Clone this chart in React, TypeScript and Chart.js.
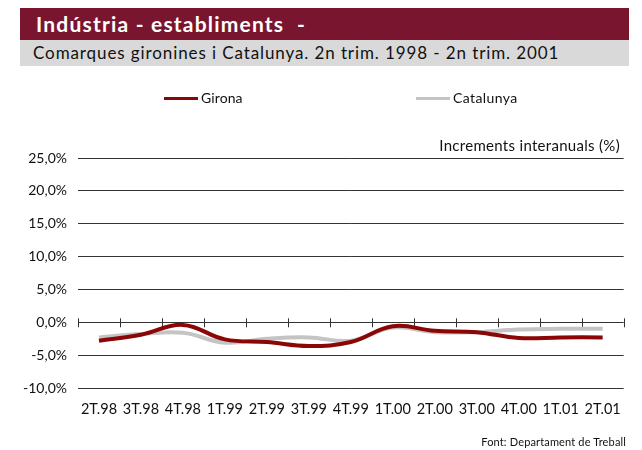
import React, { useEffect, useRef } from "react";
import { Chart, registerables } from "chart.js";

Chart.register(...registerables);

const categories = ["2T.98", "3T.98", "4T.98", "1T.99", "2T.99", "3T.99", "4T.99", "1T.00", "2T.00", "3T.00", "4T.00", "1T.01", "2T.01"];
const gironaValues = [-2.8, -1.9, -0.4, -2.6, -3.0, -3.6, -3.0, -0.6, -1.3, -1.5, -2.4, -2.3, -2.3];
const catalunyaValues = [-2.3, -1.8, -1.6, -3.1, -2.5, -2.3, -2.8, -0.8, -1.5, -1.5, -1.1, -1.0, -1.0];
const yTicks = [-10, -5, 0, 5, 10, 15, 20, 25];

const FONT = "Lato, 'DejaVu Sans', sans-serif";
const GIRONA = "#8b0606";
const CATALUNYA = "#c4c4c4";

const zeroTicks = {
  id: "zeroTicks",
  beforeDatasetsDraw(chart: any) {
    const { ctx, scales } = chart;
    const x = scales.x;
    const y = scales.y;
    const y0 = y.getPixelForValue(0);
    const n = categories.length;
    const step = (x.right - x.left) / n;
    ctx.save();
    ctx.strokeStyle = "#333";
    ctx.lineWidth = 1;
    for (let i = 0; i <= n; i++) {
      const px = Math.round(x.left + i * step) + 0.5;
      ctx.beginPath();
      ctx.moveTo(px, y0 - 4);
      ctx.lineTo(px, y0 + 5);
      ctx.stroke();
    }
    ctx.restore();
  },
};

export default function App() {
  const ref = useRef<HTMLCanvasElement>(null);
  useEffect(() => {
    if (!ref.current) return;
    const chart = new Chart(ref.current, {
      type: "line",
      data: {
        labels: categories,
        datasets: [
          {
            label: "Girona",
            data: gironaValues,
            borderColor: GIRONA,
            backgroundColor: GIRONA,
            borderWidth: 4,
            pointRadius: 0,
            tension: 0.4,
          },
          {
            label: "Catalunya",
            data: catalunyaValues,
            borderColor: CATALUNYA,
            backgroundColor: CATALUNYA,
            borderWidth: 4,
            pointRadius: 0,
            tension: 0.4,
          },
        ],
      },
      plugins: [zeroTicks],
      options: {
        animation: false,
        responsive: false,
        maintainAspectRatio: false,
        layout: { padding: { top: 150, right: 6, bottom: 0, left: 0 } },
        plugins: { legend: { display: false }, tooltip: { enabled: false } },
        scales: {
          x: {
            type: "category",
            offset: true,
            grid: { display: false, drawTicks: false },
            border: { display: false },
            ticks: { color: "#111", font: { family: FONT, size: 14.5 }, padding: 13, maxRotation: 0, autoSkip: false },
            afterFit(s: any) { s.height = 54; },
          },
          y: {
            min: -10,
            max: 25,
            afterBuildTicks(s: any) { s.ticks = yTicks.map((v) => ({ value: v })); },
            grid: { color: "#333", lineWidth: 1, drawTicks: false },
            border: { display: false },
            ticks: {
              color: "#111",
              font: { family: FONT, size: 14 },
              padding: 11,
              callback: (v: any) => Number(v).toFixed(1).replace(".", ",") + "%",
            },
            afterFit(s: any) { s.width = 70; },
          },
        },
      },
    });
    return () => chart.destroy();
  }, []);

  const text: React.CSSProperties = { position: "absolute", fontFamily: FONT, color: "#111", whiteSpace: "nowrap" };

  return (
    <div style={{ position: "relative", width: 626, height: 442 }}>
      <canvas ref={ref} width={626} height={434} style={{ position: "absolute", left: 0, top: 0 }} />
      <div style={{ position: "absolute", left: 12, top: 0, width: 609, height: 32, background: "#7a1530" }} />
      <div style={{ ...text, left: 28, top: 3, fontSize: 21, fontWeight: 700, color: "#fff", letterSpacing: 1.2, lineHeight: "26px" }}>
        Indústria - establiments&nbsp; -
      </div>
      <div style={{ position: "absolute", left: 12, top: 32, width: 609, height: 26, background: "#d9d9d9" }} />
      <div style={{ ...text, left: 25, top: 34, fontSize: 17, lineHeight: "22px", letterSpacing: 0.9 }}>
        Comarques gironines i Catalunya. 2n trim. 1998 - 2n trim. 2001
      </div>
      <div style={{ position: "absolute", left: 156, top: 89, width: 34, height: 3, background: GIRONA }} />
      <div style={{ ...text, left: 193, top: 81, fontSize: 14, lineHeight: "18px", letterSpacing: 0.1 }}>Girona</div>
      <div style={{ position: "absolute", left: 408, top: 89, width: 34, height: 3, background: CATALUNYA }} />
      <div style={{ ...text, left: 445, top: 81, fontSize: 14, lineHeight: "18px", letterSpacing: 0.4 }}>Catalunya</div>
      <div style={{ ...text, right: 14, top: 128, fontSize: 15, lineHeight: "18px", letterSpacing: 0.3 }}>Increments interanuals (%)</div>
      <div style={{ ...text, right: 8, top: 427, fontSize: 11, lineHeight: "14px", letterSpacing: 0.15 }}>Font: Departament de Treball</div>
    </div>
  );
}
